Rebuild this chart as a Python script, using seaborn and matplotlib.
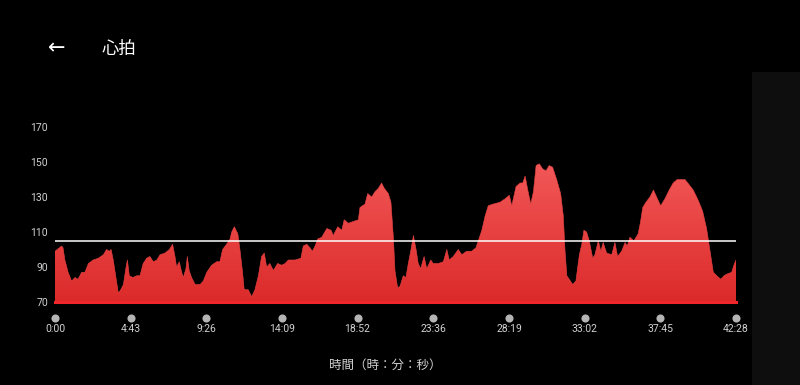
import matplotlib
matplotlib.use("Agg")
import matplotlib.pyplot as plt
import matplotlib.transforms as mtransforms
from matplotlib.colors import LinearSegmentedColormap
from matplotlib.patches import Rectangle
import numpy as np
import seaborn as sns


# Heart rate samples: elapsed seconds and bpm.
seconds = [
    0, 25, 30, 37, 49, 62, 75, 86, 100, 112, 125, 143, 162, 181, 193, 203, 210, 218,
    231, 237, 246, 256, 266, 271, 278, 291, 306, 318, 330, 343, 355, 368, 381, 393,
    412, 428, 440, 449, 455, 465, 474, 480, 490, 495, 502, 511, 524, 543, 555, 568,
    586, 605, 617, 627, 642, 655, 661, 671, 684, 692, 701, 708, 723, 736, 748, 761,
    773, 783, 792, 804, 817, 833, 848, 861, 873, 898, 920, 929, 942, 954, 963, 973,
    983, 998, 1017, 1033, 1041, 1058, 1073, 1082, 1097, 1116, 1135, 1141, 1160, 1170,
    1185, 1197, 1210, 1222, 1232, 1247, 1257, 1266, 1272, 1282, 1291, 1303, 1313, 1322,
    1332, 1341, 1351, 1359, 1368, 1381, 1391, 1406, 1415, 1434, 1453, 1466, 1475, 1490,
    1509, 1522, 1540, 1559, 1575, 1584, 1597, 1609, 1621, 1640, 1665, 1684, 1700, 1709,
    1725, 1740, 1750, 1759, 1769, 1780, 1790, 1800, 1812, 1825, 1837, 1849, 1862, 1877,
    1892, 1902, 1908, 1915, 1924, 1937, 1949, 1962, 1971, 1979, 1989, 1999, 2012, 2020,
    2033, 2042, 2051, 2064, 2083, 2095, 2105, 2120, 2133, 2141, 2151, 2166, 2182, 2191,
    2199, 2211, 2226, 2239, 2251, 2266, 2282, 2298, 2313, 2328, 2345, 2357, 2373, 2388,
    2407, 2423, 2438, 2451, 2463, 2476, 2491, 2503, 2515, 2532, 2540, 2548,
]
bpm = [
    99, 102, 101, 94, 87, 82, 84, 83, 87, 87, 92, 94, 95, 97, 100, 99, 100, 94,
    81, 75, 77, 80, 90, 94, 85, 84, 85, 85, 92, 95, 96, 93, 94, 97,
    98, 100, 103, 96, 90, 93, 87, 84, 89, 96, 88, 84, 80, 80, 82, 87,
    91, 93, 93, 100, 103, 106, 110, 113, 109, 100, 88, 77, 77, 73, 77, 85,
    96, 98, 90, 92, 88, 92, 91, 92, 94, 94, 95, 102, 103, 101, 99, 102,
    106, 107, 112, 111, 108, 113, 111, 117, 115, 116, 117, 124, 126, 132,
    130, 133, 135, 138, 135, 132, 127, 107, 88, 78, 79, 85, 84, 92,
    100, 108, 100, 92, 89, 96, 89, 94, 92, 92, 93, 100, 94, 96,
    100, 97, 99, 99, 101, 105, 111, 119, 125, 126, 127, 129, 131, 125,
    136, 138, 138, 142, 134, 126, 133, 148, 149, 146, 145, 148, 147, 140,
    132, 119, 100, 85, 83, 80, 82, 97, 103, 111, 110, 105, 95, 97,
    105, 99, 104, 98, 97, 104, 96, 99, 104, 102, 107, 105, 109, 116,
    124, 127, 130, 134, 130, 125, 129, 134, 138, 140, 140, 140, 137, 134,
    128, 122, 112, 99, 87, 85, 83, 85, 86, 87, 91, 94,
]
average_bpm = 105

tick_seconds = [0, 283, 566, 849, 1132, 1416, 1699, 1982, 2265, 2548]
tick_labels = ["0:00", "4:43", "9:26", "14:09", "18:52", "23:36", "28:19", "33:02", "37:45", "42:28"]
y_ticks = [70, 90, 110, 130, 150, 170]

sns.set_style("dark")
plt.rcParams["font.family"] = ["Noto Sans CJK JP", "DejaVu Sans"]

fig = plt.figure(figsize=(8, 3.85), dpi=100, facecolor="black")

# Panel on the right edge of the screen.
fig.patches.append(Rectangle((752 / 800, 0), 48 / 800, (385 - 72) / 385,
                             transform=fig.transFigure, facecolor="#0e0e0e",
                             edgecolor="none", zorder=0))

ax = fig.add_axes([55 / 800, 83 / 385, 681 / 800, 175 / 385])
ax.set_facecolor("black")
ax.set_xlim(0, 2548)
ax.set_ylim(70, 170)

# Area with a vertical red gradient.
poly = ax.fill_between(seconds, bpm, 70, color="none", linewidth=0)
red_grad = LinearSegmentedColormap.from_list("red_grad", ["#dc2a2a", "#f86464"])
grad = np.linspace(0, 1, 256).reshape(-1, 1)
img = ax.imshow(grad, extent=[0, 2548, 70, 170], origin="lower", aspect="auto",
                cmap=red_grad, zorder=1)
img.set_clip_path(poly.get_paths()[0], transform=ax.transData)
sns.lineplot(x=seconds, y=bpm, color="#e84444", linewidth=0.4, ax=ax, zorder=2)

ax.axhline(average_bpm, color="white", linewidth=1.1, zorder=3)

for side in ["top", "left", "right"]:
    ax.spines[side].set_visible(False)
ax.spines["bottom"].set_color("#f0262a")
ax.spines["bottom"].set_linewidth(2.2)
ax.spines["bottom"].set_zorder(4)
ax.grid(False)

ax.set_yticks(y_ticks)
ax.set_yticklabels([str(v) for v in y_ticks], fontsize=7.5, color="#d2d2d2", family="Roboto")
ax.tick_params(axis="y", length=0, pad=5)

ax.set_xticks(tick_seconds)
ax.set_xticklabels(tick_labels, fontsize=7.5, color="#d2d2d2", family="Roboto")
ax.tick_params(axis="x", length=0, pad=16)

# Grey dots above each time label.
trans = mtransforms.blended_transform_factory(ax.transData, ax.transAxes)
ax.scatter(tick_seconds, [-16 / 175] * len(tick_seconds), s=34, color="#b4b4b4",
           transform=trans, clip_on=False, zorder=5, linewidths=0)

fig.text(385 / 800, 1 - 365 / 385, "時間（時：分：秒）", ha="center", va="center",
         fontsize=9, color="#d2d2d2")
fig.text(57 / 800, 1 - 48 / 385, "←", ha="center", va="center", fontsize=15,
         color="white", family=["DejaVu Sans"])
fig.text(119 / 800, 1 - 49 / 385, "心拍", ha="center", va="center", fontsize=12.5,
         color="white")

fig.savefig("out.png", dpi=100, facecolor="black")
